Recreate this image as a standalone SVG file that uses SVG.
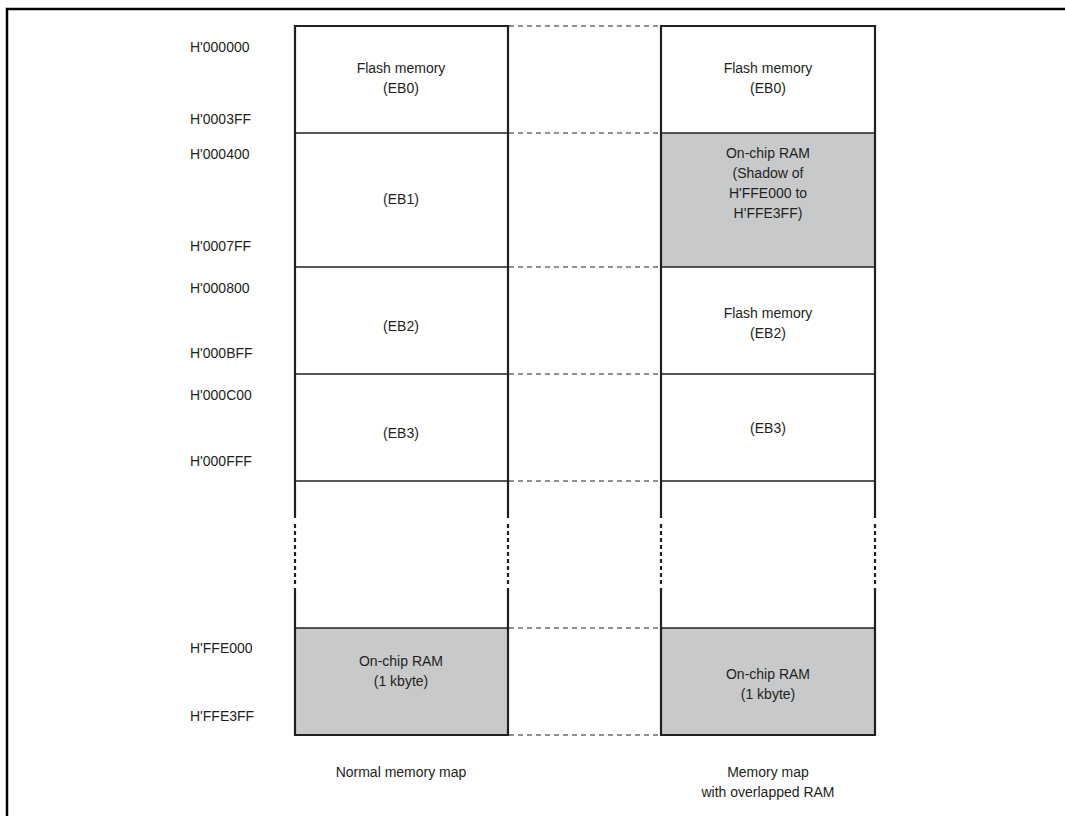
<svg xmlns="http://www.w3.org/2000/svg" width="1065" height="816" viewBox="0 0 1065 816">
<style>
text{font-family:"Liberation Sans",Arial,sans-serif;font-size:14px;fill:#231f20}
.c{text-anchor:middle}
.frame{fill:none;stroke:#000;stroke-width:2.5}
.edge{stroke:#231f20;stroke-width:2.2;fill:none}
.div{stroke:#231f20;stroke-width:1.3}
.dot{stroke:#231f20;stroke-width:2.2;stroke-dasharray:4 3;fill:none}
.conn{stroke:#231f20;stroke-width:1;stroke-dasharray:5 4}
.gray{fill:#c8c9cb}
</style>
<rect width="1065" height="816" fill="#fff"/>
<path class="frame" d="M7,816 V9 H1065"/>
<g id="connectors">
<line class="conn" x1="509" y1="26" x2="661" y2="26"/>
<line class="conn" x1="509" y1="133" x2="661" y2="133"/>
<line class="conn" x1="509" y1="267" x2="661" y2="267"/>
<line class="conn" x1="509" y1="374" x2="661" y2="374"/>
<line class="conn" x1="509" y1="481" x2="661" y2="481"/>
<line class="conn" x1="509" y1="628" x2="661" y2="628"/>
<line class="conn" x1="509" y1="735" x2="661" y2="735"/>
</g>
<g id="left-map">
<rect class="gray" x="295" y="628" width="213" height="107"/>
<path class="edge" d="M295,518 V26 H508 V518"/>
<path class="dot" d="M295,524 V584 M508,524 V584"/>
<path class="edge" d="M295,588 V735 H508 V588"/>
<line class="div" x1="295" y1="133" x2="508" y2="133"/>
<line class="div" x1="295" y1="267" x2="508" y2="267"/>
<line class="div" x1="295" y1="374" x2="508" y2="374"/>
<line class="div" x1="295" y1="481" x2="508" y2="481"/>
<line class="div" x1="295" y1="628" x2="508" y2="628"/>
</g>
<g id="right-map">
<rect class="gray" x="661" y="133" width="214" height="134"/>
<rect class="gray" x="661" y="628" width="214" height="107"/>
<path class="edge" d="M661,518 V26 H875 V518"/>
<path class="dot" d="M661,524 V584 M875,524 V584"/>
<path class="edge" d="M661,588 V735 H875 V588"/>
<line class="div" x1="661" y1="133" x2="875" y2="133"/>
<line class="div" x1="661" y1="267" x2="875" y2="267"/>
<line class="div" x1="661" y1="374" x2="875" y2="374"/>
<line class="div" x1="661" y1="481" x2="875" y2="481"/>
<line class="div" x1="661" y1="628" x2="875" y2="628"/>
</g>
<g id="addresses">
<text x="190" y="52">H'000000</text>
<text x="190" y="124">H'0003FF</text>
<text x="190" y="159">H'000400</text>
<text x="190" y="251">H'0007FF</text>
<text x="190" y="293">H'000800</text>
<text x="190" y="358">H'000BFF</text>
<text x="190" y="400">H'000C00</text>
<text x="190" y="466">H'000FFF</text>
<text x="190" y="653">H'FFE000</text>
<text x="190" y="721">H'FFE3FF</text>
</g>
<g id="left-labels">
<text class="c" x="401" y="73">Flash memory</text>
<text class="c" x="401" y="93">(EB0)</text>
<text class="c" x="401" y="204">(EB1)</text>
<text class="c" x="401" y="331">(EB2)</text>
<text class="c" x="401" y="438">(EB3)</text>
<text class="c" x="401" y="666">On-chip RAM</text>
<text class="c" x="401" y="686">(1 kbyte)</text>
</g>
<g id="right-labels">
<text class="c" x="768" y="73">Flash memory</text>
<text class="c" x="768" y="93">(EB0)</text>
<text class="c" x="768" y="158">On-chip RAM</text>
<text class="c" x="768" y="178">(Shadow of</text>
<text class="c" x="768" y="198">H'FFE000 to</text>
<text class="c" x="768" y="218">H'FFE3FF)</text>
<text class="c" x="768" y="318">Flash memory</text>
<text class="c" x="768" y="338">(EB2)</text>
<text class="c" x="768" y="433">(EB3)</text>
<text class="c" x="768" y="679">On-chip RAM</text>
<text class="c" x="768" y="699">(1 kbyte)</text>
</g>
<g id="captions">
<text class="c" x="401" y="777">Normal memory map</text>
<text class="c" x="768" y="777">Memory map</text>
<text class="c" x="768" y="797">with overlapped RAM</text>
</g>
</svg>
